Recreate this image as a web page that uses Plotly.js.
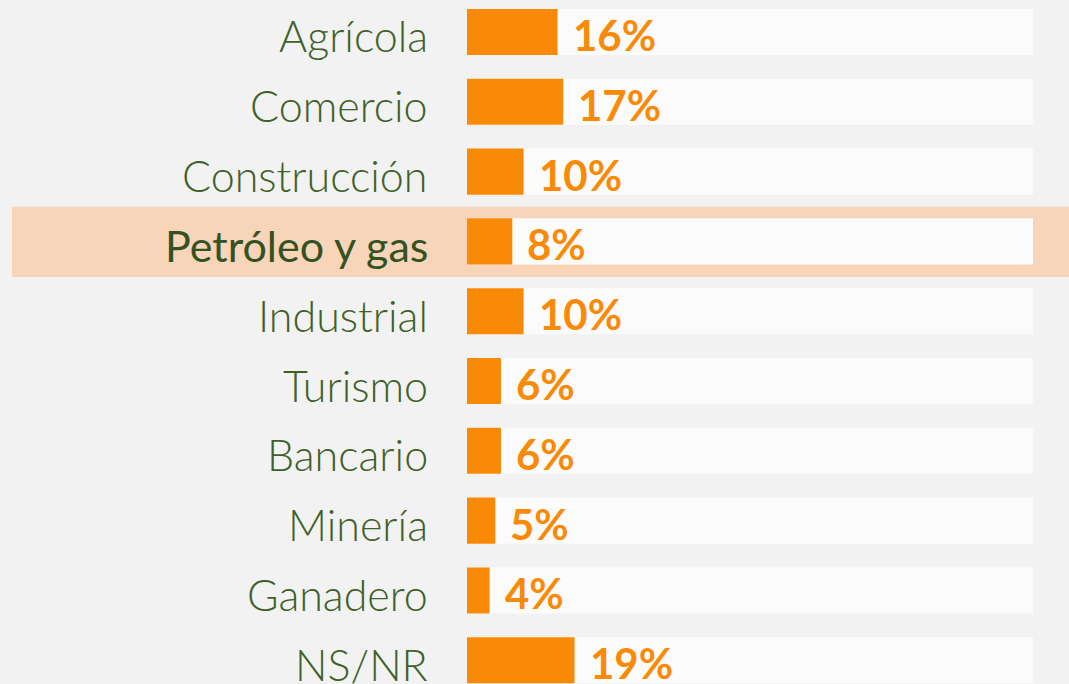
<!DOCTYPE html>
<html>
<head>
<meta charset="utf-8">
<script src="https://cdn.plot.ly/plotly-3.0.1.min.js"></script>
<style>html,body{margin:0;padding:0;background:#f2f2f2;}</style>
</head>
<body>
<div id="chart" style="width:1069px;height:684px;"></div>
<script>
const categories = ["Agrícola","Comercio","Construcción","Petróleo y gas","Industrial","Turismo","Bancario","Minería","Ganadero","NS/NR"];
const values = [16,17,10,8,10,6,6,5,4,19];
const valueLabels = ["16%","17%","10%","8%","10%","6%","6%","5%","4%","19%"];
const highlighted = "Petróleo y gas";
const total = 100;

const idx = categories.map((c,i)=>i);
const hiIdx = categories.indexOf(highlighted);

const green = "#3f6127";
const orange = "#f98a07";

const bgTrace = {
  type:"bar", orientation:"h",
  x: categories.map(()=>total), y: idx,
  base: 0,
  width: 0.66,
  marker:{color:"#fbfbfb"},
  hoverinfo:"skip"
};
const valTrace = {
  type:"bar", orientation:"h",
  x: values, y: idx, base: 0,
  width: 0.66,
  marker:{color:orange},
  hoverinfo:"x+y"
};

const annotations = [];
categories.forEach((c,i)=>{
  const hi = (i===hiIdx);
  annotations.push({
    x:-6.5, y:i, xref:"x", yref:"y", text:c, showarrow:false,
    xanchor:"right", yanchor:"middle", yshift:-4,
    font:{family:"Lato, 'Open Sans', sans-serif", size:hi?43:43, weight:hi?400:300, color:hi?"#34521f":green}
  });
  annotations.push({
    x:values[i], y:i, xref:"x", yref:"y", text:valueLabels[i], showarrow:false,
    xanchor:"left", yanchor:"middle", xshift:13, yshift:-3,
    font:{family:"Lato, 'Open Sans', sans-serif", size:42, weight:700, color:orange}
  });
});

const layout = {
  width:1069, height:684,
  margin:{l:0,r:0,t:0,b:0},
  paper_bgcolor:"#f2f2f2", plot_bgcolor:"#f2f2f2",
  barmode:"overlay",
  showlegend:false,
  xaxis:{range:[-82.51,106.36], visible:false, fixedrange:true},
  yaxis:{range:[9.34,-0.458], visible:false, fixedrange:true},
  shapes:[{
    type:"rect", layer:"below",
    xref:"paper", yref:"y",
    x0:12/1069, x1:1, y0:hiIdx-0.495, y1:hiIdx+0.51,
    fillcolor:"#f8d4b9", line:{width:0}
  }],
  annotations: annotations
};

Plotly.newPlot("chart",[bgTrace,valTrace],layout,{displayModeBar:false,staticPlot:true});
</script>
</body>
</html>
